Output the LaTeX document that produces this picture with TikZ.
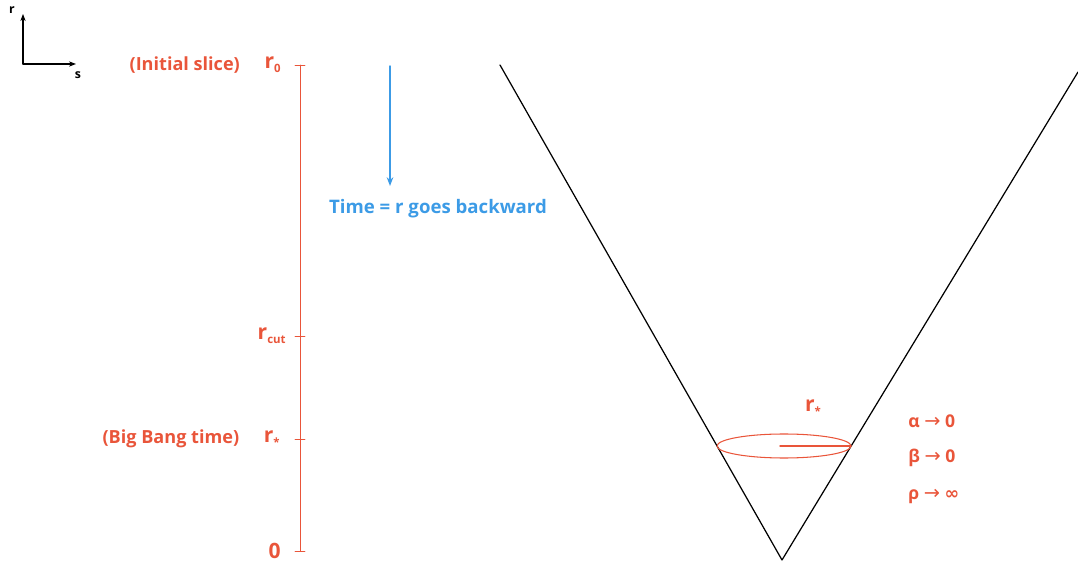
\documentclass[tikz,border=0pt]{standalone}
\usepackage{fontspec}
\setmainfont{Open Sans}
\newfontfamily\symfont{DejaVu Sans}
\usetikzlibrary{calc,positioning,arrows.meta}
\definecolor{cred}{HTML}{E9553A}
\definecolor{cblue}{HTML}{3C9BE6}
\newcommand{\lowsub}[1]{\raisebox{-0.35ex}{\fontsize{6.5}{6.5}\selectfont #1}}

\begin{document}
\begin{tikzpicture}[x=0.02cm,y=-0.02cm,line join=round,line cap=round,>=Stealth,
	rlab/.style={inner sep=0pt,text=cred,font=\bfseries\fontsize{12}{12}\selectfont},
	nlab/.style={inner sep=0pt,text=cred,font=\bfseries\fontsize{10.3}{10.3}\selectfont},
	glab/.style={inner sep=0pt,text=cred,font=\bfseries\fontsize{10}{10}\selectfont,anchor=west},
	axlab/.style={inner sep=0pt,font=\bfseries\fontsize{7}{7}\selectfont}]
	\useasboundingbox (0,0) rectangle (1078,563);
	% Hệ trục nhỏ
	\coordinate (G) at (23,64);
	\coordinate (Gr) at (23,14);
	\coordinate (Gs) at (76,64);
	\draw[-{Stealth[length=4pt]},line width=0.6pt] (G)--(Gr);
	\draw[-{Stealth[length=4pt]},line width=0.6pt] (G)--(Gs);
	\node[axlab] (lr) at (12,10) {r};
	\node[axlab] (ls) at (78,75) {s};
	% Trục r
	\coordinate (T0) at (300,65);
	\coordinate (Tc) at (300,336);
	\coordinate (Ts) at (300,439);
	\coordinate (Tz) at (300,551);
	\draw[cred,line width=0.5pt] (T0)--(Tz);
	\foreach \p in {T0,Tc,Ts,Tz}
		\draw[cred,line width=0.5pt] ($(\p)+(-5,0)$)--($(\p)+(5,0)$);
	\node[rlab,left=0.38cm of T0] (r0) {r\lowsub{0}};
	\node[rlab,left=0.28cm of Tc] (rc) {r\lowsub{cut}};
	\node[rlab,left=0.40cm of Ts] (rs) {r\lowsub{*}};
	\node[rlab,left=0.38cm of Tz] (rz) {0};
	\node[nlab,left=0.48cm of r0] (init) {(Initial slice)};
	\node[nlab,left=0.48cm of rs] (bb) {(Big Bang time)};
	% Mũi tên thời gian
	\coordinate (B1) at (390,66);
	\coordinate (B2) at (390,186);
	\draw[cblue,line width=0.8pt,-{Stealth[length=5pt]}] (B1)--(B2);
	\node[inner sep=0pt,text=cblue,font=\bfseries\fontsize{10.6}{10.6}\selectfont] (tb) at (438,209) {Time = r goes backward};
	% Hình chữ V
	\coordinate (V1) at (500,65);
	\coordinate (V0) at (782,560);
	\coordinate (V2) at (1078,72);
	\draw[line width=0.7pt] (V1)--(V0)--(V2);
	\coordinate (E) at (784,446);
	\coordinate (Ea) at (780,446);
	\coordinate (Eb) at (851,446);
	\draw[cred,line width=0.6pt] (E) ellipse (1.34cm and 0.24cm);
	\draw[cred,line width=0.8pt] (Ea)--(Eb);
	\node[rlab] (rst) at (813,408) {r\lowsub{*}};
	\node[glab] (ga) at (908,421) {α {\symfont\mdseries\fontsize{11}{11}\selectfont →} 0};
	\node[glab] (gb) at (908,458) {β {\symfont\mdseries\fontsize{11}{11}\selectfont →} 0};
	\node[glab] (gr) at (908,497) {ρ {\symfont\mdseries\fontsize{11}{11}\selectfont →} {\symfont ∞}};
\end{tikzpicture}
\end{document}
